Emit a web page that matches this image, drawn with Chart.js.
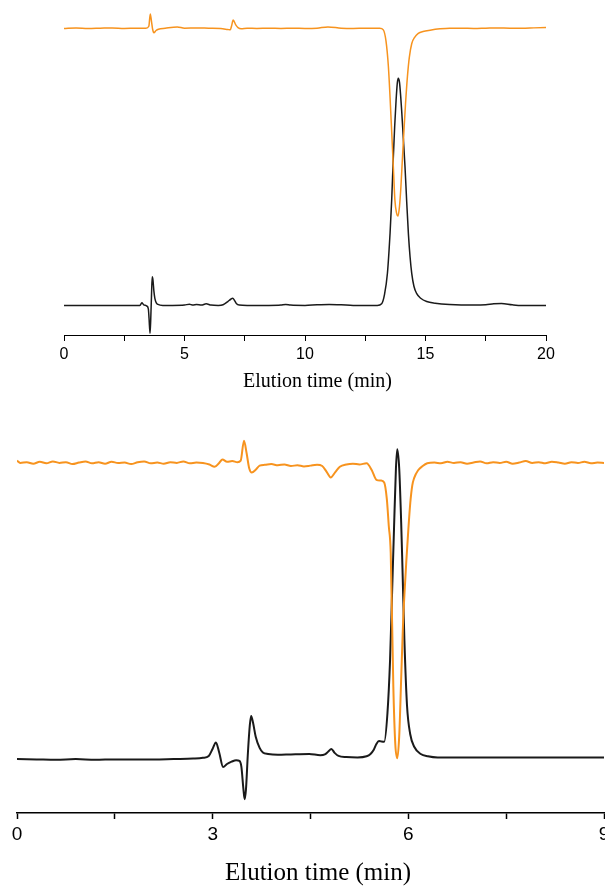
<!DOCTYPE html>
<html>
<head>
<meta charset="utf-8">
<script src="https://cdn.jsdelivr.net/npm/chart.js@4/dist/chart.umd.min.js"></script>
<style>
  html, body { margin: 0; padding: 0; background: #fff; overflow: hidden; width: 605px; height: 887px; }
  #top { position: absolute; left: 0; top: 0; }
  #bottom { position: absolute; left: 0; top: 400px; }
</style>
</head>
<body>
<canvas id="top" width="605" height="400"></canvas>
<canvas id="bottom" width="625" height="487"></canvas>
<script>
// top panel: [time (min), signal]
const topOrange = [
  [0.0, 94.3], [0.5, 94.5], [1.0, 94.3], [1.5, 94.4], [2.0, 94.5], [2.5, 94.3], [3.0, 94.4], [3.4, 94.4],
  [3.52, 95.0], [3.58, 98.8], [3.63, 96.5], [3.68, 94.0], [3.73, 93.0], [3.82, 93.7], [3.92, 94.1],
  [4.2, 94.4], [4.7, 94.8], [5.0, 94.4], [5.5, 94.5], [6.0, 94.4], [6.5, 94.3], [6.8, 94.0], [6.9, 93.9],
  [6.95, 95.0], [7.02, 96.9], [7.12, 95.5], [7.22, 94.6], [7.35, 94.2], [7.6, 94.4], [8.0, 94.3],
  [8.5, 94.4], [9.0, 94.3], [9.5, 94.4], [10.0, 94.3], [10.5, 94.4], [10.95, 94.8], [11.5, 94.4],
  [12.0, 94.3], [12.5, 94.4], [13.1, 94.4], [13.25, 93.9], [13.36, 90.5], [13.46, 82.6], [13.53, 73.0],
  [13.60, 62.1], [13.67, 51.0], [13.73, 41.5], [13.80, 37.5], [13.86, 36.6], [13.92, 39.5], [13.98, 45.6],
  [14.04, 54.0], [14.10, 62.1], [14.17, 71.0], [14.25, 79.5], [14.33, 85.5], [14.43, 89.7], [14.55, 91.6],
  [14.70, 92.8], [14.9, 93.4], [15.19, 93.8], [15.6, 94.2], [16.0, 94.4], [16.5, 94.4], [17.0, 94.3],
  [17.5, 94.4], [18.0, 94.5], [18.5, 94.4], [19.0, 94.4], [19.5, 94.5], [20.0, 94.6]
];
const topBlack = [
  [0.0, 9.1], [1.0, 9.1], [2.0, 9.1], [3.0, 9.1], [3.15, 9.1], [3.23, 9.9], [3.31, 9.3], [3.44, 8.9],
  [3.50, 8.0], [3.53, 5.0], [3.57, 0.5], [3.60, 5.0], [3.63, 12.0], [3.66, 17.9], [3.69, 17.0],
  [3.73, 13.5], [3.77, 11.3], [3.83, 9.9], [3.9, 9.4], [4.1, 9.1], [4.5, 9.1], [5.0, 9.2], [5.2, 9.5],
  [5.35, 9.2], [5.5, 9.4], [5.7, 9.2], [5.9, 9.6], [6.1, 9.2], [6.4, 9.1], [6.6, 9.3], [6.8, 10.3],
  [6.92, 11.0], [7.0, 11.3], [7.08, 10.6], [7.15, 9.7], [7.27, 9.2], [7.6, 9.1], [8.5, 9.1], [9.0, 9.2],
  [9.2, 9.4], [9.4, 9.2], [10.0, 9.1], [10.5, 9.3], [11.0, 9.4], [11.5, 9.3], [12.0, 9.1], [13.0, 9.1],
  [13.18, 9.6], [13.3, 12.5], [13.42, 19.0], [13.53, 31.4], [13.60, 42.0], [13.66, 53.8], [13.72, 64.0],
  [13.78, 72.3], [13.83, 77.5], [13.87, 79.0], [13.92, 77.8], [13.97, 73.5], [14.01, 69.2], [14.08, 60.5],
  [14.15, 51.7], [14.22, 41.0], [14.29, 31.2], [14.36, 24.0], [14.43, 18.9], [14.52, 15.0], [14.63, 12.8],
  [14.8, 11.3], [15.05, 10.3], [15.4, 9.8], [16.0, 9.4], [17.0, 9.2], [17.5, 9.3], [17.83, 9.6],
  [18.15, 9.7], [18.6, 9.3], [19.0, 9.1], [20.0, 9.1]
];

// bottom panel
const bottomOrange = [
  [0.00, 92.0], [0.05, 91.4], [0.15, 91.6], [0.25, 91.2], [0.35, 91.7], [0.45, 91.3], [0.55, 91.8],
  [0.65, 91.4], [0.75, 91.6], [0.85, 91.1], [0.95, 91.5], [1.05, 91.8], [1.15, 91.3], [1.25, 91.6],
  [1.35, 91.2], [1.45, 91.7], [1.55, 91.4], [1.65, 91.5], [1.75, 91.1], [1.85, 91.6], [1.95, 91.8],
  [2.05, 91.3], [2.15, 91.5], [2.25, 91.2], [2.35, 91.6], [2.45, 91.4], [2.55, 91.8], [2.65, 91.3],
  [2.75, 91.5], [2.85, 91.4], [2.95, 91.0], [3.03, 90.4], [3.10, 91.4], [3.15, 92.3], [3.22, 91.7],
  [3.30, 91.9], [3.38, 91.6], [3.43, 92.0], [3.48, 97.2], [3.52, 94.0], [3.56, 90.0], [3.60, 88.9],
  [3.66, 89.6], [3.72, 90.7], [3.80, 90.9], [3.90, 91.1], [4.00, 90.8], [4.10, 91.0], [4.20, 90.6],
  [4.30, 90.8], [4.40, 90.5], [4.50, 90.7], [4.60, 90.9], [4.68, 90.6], [4.75, 89.0], [4.81, 87.6],
  [4.88, 89.0], [4.95, 90.4], [5.05, 91.0], [5.15, 91.2], [5.25, 91.0], [5.36, 91.3], [5.44, 89.5],
  [5.51, 87.0], [5.58, 86.8], [5.63, 86.3], [5.67, 82.0], [5.70, 75.0], [5.73, 67.8], [5.77, 33.0],
  [5.80, 18.0], [5.83, 14.3], [5.86, 20.0], [5.89, 35.0], [5.92, 50.0], [5.94, 57.0], [5.97, 66.0],
  [6.00, 74.0], [6.03, 81.0], [6.06, 85.5], [6.09, 87.5], [6.15, 89.5], [6.22, 90.6], [6.29, 91.3],
  [6.40, 91.5], [6.50, 91.3], [6.60, 91.7], [6.70, 91.4], [6.80, 91.6], [6.90, 91.2], [7.00, 91.5],
  [7.10, 91.8], [7.20, 91.3], [7.30, 91.6], [7.40, 91.4], [7.50, 91.7], [7.60, 91.2], [7.70, 91.5],
  [7.80, 91.9], [7.90, 91.4], [8.00, 91.6], [8.10, 91.3], [8.20, 91.7], [8.30, 91.5], [8.40, 91.2],
  [8.50, 91.6], [8.60, 91.4], [8.70, 91.7], [8.80, 91.3], [8.90, 91.5], [9.00, 91.4]
];
const bottomBlack = [
  [0.00, 14.1], [0.30, 14.0], [0.60, 13.9], [0.90, 14.1], [1.20, 13.9], [1.50, 14.0], [1.80, 14.0],
  [2.10, 14.0], [2.40, 14.1], [2.70, 14.2], [2.85, 14.4], [2.94, 14.9], [3.00, 16.8], [3.05, 18.4],
  [3.10, 15.8], [3.16, 12.0], [3.22, 12.8], [3.29, 13.4], [3.36, 13.8], [3.41, 13.6], [3.44, 12.1],
  [3.47, 6.5], [3.49, 3.6], [3.51, 6.0], [3.54, 15.6], [3.57, 23.0], [3.59, 25.3], [3.62, 23.5],
  [3.66, 19.9], [3.72, 17.0], [3.77, 15.8], [3.85, 15.4], [4.00, 15.2], [4.20, 15.3], [4.48, 15.4],
  [4.65, 15.1], [4.72, 15.3], [4.77, 16.0], [4.82, 16.7], [4.87, 15.7], [4.93, 14.9], [5.05, 14.6],
  [5.22, 14.5], [5.36, 14.8], [5.42, 15.4], [5.47, 16.5], [5.51, 18.0], [5.55, 18.8], [5.58, 18.7],
  [5.63, 18.6], [5.68, 26.1], [5.72, 40.0], [5.75, 57.0], [5.78, 74.0], [5.81, 90.0], [5.83, 95.0],
  [5.86, 90.0], [5.89, 76.0], [5.91, 64.0], [5.94, 45.0], [5.98, 28.0], [6.03, 20.5], [6.09, 17.3],
  [6.19, 15.4], [6.30, 14.8], [6.45, 14.5], [7.00, 14.5], [8.00, 14.5], [9.00, 14.5]
];

const topTicks = [0, 5, 10, 15, 20];
const bottomTicks = [0, 3, 6, 9];
const axisTitle = 'Elution time (min)';

const orange = '#F7931E';
const black = '#1a1a1a';

const pts = (arr) => arr.map(p => ({ x: p[0], y: p[1] }));

// axis title sits a little right of the plot centre in the original figure
const titlePlugin = {
  id: 'offsetTitle',
  afterDraw(chart, args, opts) {
    const { ctx, chartArea } = chart;
    ctx.save();
    ctx.font = opts.size + 'px "Liberation Serif", "Times New Roman", serif';
    ctx.fillStyle = '#000';
    ctx.textAlign = 'center';
    ctx.textBaseline = 'middle';
    ctx.fillText(axisTitle, (chartArea.left + chartArea.right) / 2 + opts.dx, opts.y);
    ctx.restore();
  }
};

function makeChart(id, o) {
  const ctx = document.getElementById(id).getContext('2d');
  return new Chart(ctx, {
    type: 'line',
    data: {
      datasets: [
        { data: pts(o.orange), borderColor: orange, borderWidth: o.lw, pointRadius: 0, cubicInterpolationMode: 'monotone' },
        { data: pts(o.black), borderColor: black, borderWidth: o.lw, pointRadius: 0, cubicInterpolationMode: 'monotone' }
      ]
    },
    plugins: [titlePlugin],
    options: {
      responsive: false,
      animation: false,
      events: [],
      layout: { padding: o.padding },
      plugins: {
        legend: { display: false },
        tooltip: { enabled: false },
        offsetTitle: o.title
      },
      scales: {
        x: {
          type: 'linear',
          min: o.min,
          max: o.max,
          afterBuildTicks: (s) => {
            const t = [];
            for (let v = o.min; v <= o.max + 1e-9; v += o.minor) t.push({ value: +v.toFixed(3) });
            s.ticks = t;
          },
          afterFit: (s) => { s.height = o.axisHeight; },
          border: { display: true, color: '#000', width: o.axisWidth },
          grid: { drawOnChartArea: false, drawTicks: true, tickLength: 6, tickColor: '#000', tickWidth: o.axisWidth },
          ticks: {
            autoSkip: false,
            maxRotation: 0,
            color: '#000',
            padding: o.tickPad,
            font: { family: '"Liberation Sans", Arial, sans-serif', size: o.tickSize },
            callback: (v) => o.labels.includes(v) ? String(v) : ''
          },
          title: { display: false }
        },
        y: { display: false, min: 0, max: 100 }
      }
    }
  });
}

makeChart('top', {
  orange: topOrange, black: topBlack, lw: 1.5, axisWidth: 1,
  min: 0, max: 20, minor: 2.5, labels: topTicks,
  padding: { left: 64, right: 59, top: 10, bottom: 8 },
  axisHeight: 57, tickPad: 4, tickSize: 16,
  title: { size: 20, dx: 12.5, y: 381.5 }
});

makeChart('bottom', {
  orange: bottomOrange, black: bottomBlack, lw: 2, axisWidth: 1.5,
  min: 0, max: 9, minor: 1.5, labels: bottomTicks,
  padding: { left: 17, right: 21, top: 30, bottom: 3 },
  axisHeight: 71, tickPad: 4, tickSize: 19,
  title: { size: 25, dx: 7.5, y: 473 }
});
</script>
</body>
</html>
